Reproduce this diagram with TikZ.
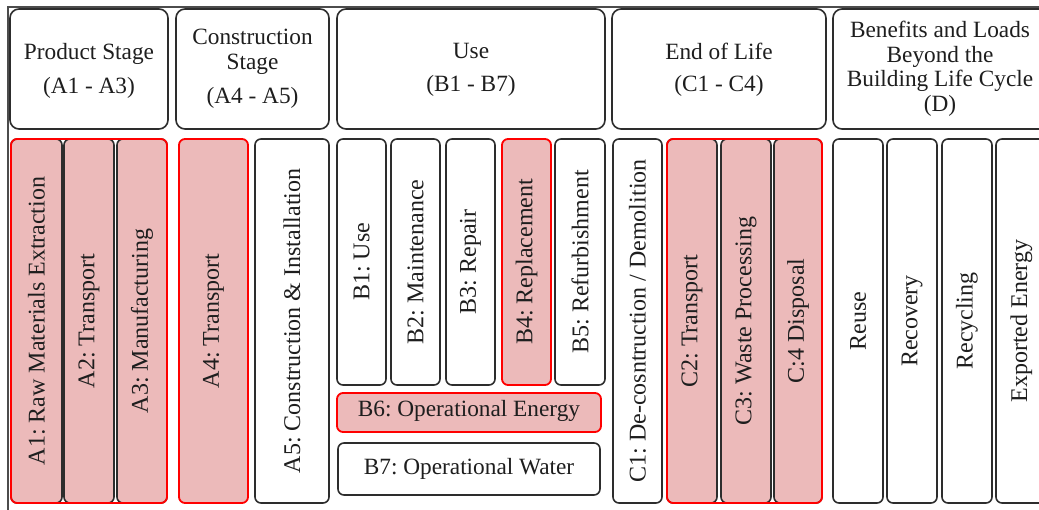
\documentclass[tikz,border=0pt]{standalone}
\usepackage{fontspec}
\setmainfont{Liberation Serif}
\newfontfamily\tnr{Liberation Serif}
\frenchspacing
\usetikzlibrary{fit}
\definecolor{edge}{RGB}{45,45,45}
\definecolor{pinkc}{RGB}{236,186,186}
\definecolor{ink}{RGB}{30,30,30}
\tikzset{
  hdr/.style={draw=edge, line width=1.6pt, rounded corners=9pt, fill=white, inner sep=0pt},
  cell/.style={draw=edge, line width=1.6pt, rounded corners=6pt, fill=white, inner sep=0pt},
  hot/.style={fill=pinkc},
  redline/.style={draw=red, line width=1.8pt},
  redframe/.style={draw=red, line width=1.8pt, rounded corners=6pt, inner sep=0pt},
  htxt/.style={text=ink, align=center, inner sep=0pt, font=\tnr\frenchspacing\fontsize{23.3}{24.5}\selectfont},
  vtxt/.style={text=ink, rotate=90, inner sep=0pt, font=\tnr\frenchspacing\fontsize{24}{26}\selectfont},
  frameline/.style={draw=edge!85, line width=1.4pt}
}
\begin{document}
\begin{tikzpicture}[x=1pt,y=-1pt]
\useasboundingbox (0,0) rectangle (1039,510);
% outer frame
\coordinate (fTL) at (8,7);
\coordinate (fTR) at (1045,7);
\coordinate (fBL) at (8,515);
\draw[frameline] (fTR) -- (fTL) -- (fBL);

% headers
\node[hdr, fit={(10,9) (168,129)}] (hA) {};
\node[htxt] (tA) at ([yshift=-2pt]hA.center) {Product Stage\\[10pt](A1 - A3)};
\node[hdr, fit={(176,9) (329,129)}] (hAA) {};
\node[htxt] (tAA) at (hAA.center) {Construction\\Stage\\[10pt](A4 - A5)};
\node[hdr, fit={(337,9) (605,129)}] (hB) {};
\node[htxt] (tB) at ([yshift=-1pt]hB.center) {Use\\[8pt](B1 - B7)};
\node[hdr, fit={(612,9) (826,129)}] (hC) {};
\node[htxt] (tC) at ([yshift=-1pt]hC.center) {End of Life\\[8pt](C1 - C4)};
\node[hdr, fit={(833,9) (1060,129)}] (hD) {};
\node[htxt] (tD) at ([xshift=3pt]hD.center -| 937,0) {Benefits and Loads\\Beyond the\\Building Life Cycle\\(D)};

% product stage
\node[cell, hot, fit={(11,139) (62,503)}] (a1) {};
\node[cell, hot, fit={(64,139) (114,503)}] (a2) {};
\node[cell, hot, fit={(117,139) (167,503)}] (a3) {};
\node[redframe, fit={(11,139) (167,503)}] (ared) {};
\node[vtxt] (ta1) at (a1.center) {A1: Raw Materials Extraction};
\node[vtxt] (ta2) at (a2.center) {A2: Transport};
\node[vtxt] (ta3) at (a3.center) {A3: Manufacturing};

% construction
\node[cell, hot, redline, fit={(179,139) (248,503)}] (a4) {};
\node[vtxt] (ta4) at (a4.center) {A4: Transport};
\node[cell, fit={(255,139) (329,503)}] (a5) {};
\node[vtxt] (ta5) at (a5.center) {A5: Construction \& Installation};

% use
\node[cell, fit={(337,139) (386,385)}] (b1) {};
\node[cell, fit={(391,139) (440,385)}] (b2) {};
\node[cell, fit={(446,139) (495,385)}] (b3) {};
\node[cell, hot, redline, fit={(502,139) (551,385)}] (b4) {};
\node[cell, fit={(555,139) (605,385)}] (b5) {};
\node[vtxt] (tb1) at (b1.center) {B1: Use};
\node[vtxt] (tb2) at (b2.center) {B2: Maintenance};
\node[vtxt] (tb3) at (b3.center) {B3: Repair};
\node[vtxt] (tb4) at (b4.center) {B4: Replacement};
\node[vtxt] (tb5) at (b5.center) {B5: Refurbishment};
\node[cell, hot, redline, fit={(337,393) (601,432)}] (b6) {};
\node[htxt] (tb6) at ([yshift=2pt]b6.center) {B6: Operational Energy};
\node[cell, fit={(338,443) (600,495)}] (b7) {};
\node[htxt] (tb7) at (b7.center) {B7: Operational Water};

% end of life
\node[cell, fit={(613,139) (662,503)}] (c1) {};
\node[cell, hot, fit={(667,139) (717,503)}] (c2) {};
\node[cell, hot, fit={(721,139) (771,503)}] (c3) {};
\node[cell, hot, fit={(774,139) (822,503)}] (c4) {};
\node[redframe, fit={(667,139) (822,503)}] (cred) {};
\node[vtxt] (tc1) at (c1.center) {C1: De-cosntruction / Demolition};
\node[vtxt] (tc2) at (c2.center) {C2: Transport};
\node[vtxt] (tc3) at (c3.center) {C3: Waste Processing};
\node[vtxt] (tc4) at (c4.center) {C:4 Disposal};

% beyond
\node[cell, fit={(833,139) (883,503)}] (d1) {};
\node[cell, fit={(887,139) (937,503)}] (d2) {};
\node[cell, fit={(942,139) (992,503)}] (d3) {};
\node[cell, fit={(996,139) (1047,503)}] (d4) {};
\node[vtxt] (td1) at (d1.center) {Reuse};
\node[vtxt] (td2) at (d2.center) {Recovery};
\node[vtxt] (td3) at (d3.center) {Recycling};
\node[vtxt] (td4) at (d4.center) {Exported Energy};
\end{tikzpicture}
\end{document}
